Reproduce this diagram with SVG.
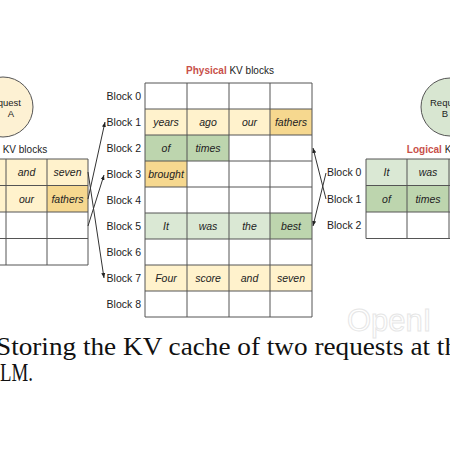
<svg xmlns="http://www.w3.org/2000/svg" width="450" height="450" viewBox="0 0 450 450">
<style>
.lbl{font-family:"Liberation Sans",Arial,sans-serif;font-size:10.5px;fill:#222}
.w{font-family:"Liberation Sans",Arial,sans-serif;font-size:10.5px;font-style:italic;fill:#222;text-anchor:middle}
.ttl{font-family:"Liberation Sans",Arial,sans-serif;font-size:10px;fill:#222;text-anchor:middle}
.red{fill:#c8504a;font-weight:bold}
.grid{fill:none;stroke:#555;stroke-width:1}
.ly{fill:#fff2cc}.dy{fill:#f6d88f}.lg{fill:#dae8d4}.dg{fill:#bdd5ae}
.conn{stroke:#333;stroke-width:1;fill:none;marker-end:url(#ah)}
.cap{font-family:"Liberation Serif","Times New Roman",serif;font-size:26px;fill:#111}
</style>
<defs>
<marker id="ah" viewBox="0 0 10 10" refX="10" refY="5" markerWidth="5" markerHeight="5" orient="auto" markerUnits="userSpaceOnUse">
<path d="M0,1 L10,5 L0,9 z" fill="#222"/>
</marker>
</defs>
<rect width="450" height="450" fill="#fff"/>

<g id="requestA">
<circle cx="3" cy="107" r="30" fill="#fdf1d3" stroke="#555" stroke-width="1"/>
<text class="lbl" x="21" y="106" text-anchor="end" style="font-size:9.5px">Request</text>
<text class="lbl" x="11" y="117" text-anchor="middle" style="font-size:9.5px">A</text>
</g>

<g id="requestB">
<circle cx="450" cy="107" r="29" fill="#d8e6d1" stroke="#555" stroke-width="1"/>
<text class="lbl" x="430" y="106" style="font-size:9.5px">Request</text>
<text class="lbl" x="445" y="117" text-anchor="middle" style="font-size:9.5px">B</text>
</g>

<g id="logicalA">
<text class="ttl" x="6" y="153"><tspan class="red">Logical</tspan> KV blocks</text>
<rect class="ly" x="-76" y="159" width="164" height="26.5"/>
<rect class="ly" x="-76" y="185.5" width="123" height="26.5"/>
<rect class="dy" x="47" y="185.5" width="41" height="26.5"/>
<rect class="dy" x="-76" y="212" width="41" height="26.5"/>
<path class="grid" d="M-76,159H88V265H-76Z M-76,185.5H88 M-76,212H88 M-76,238.5H88 M-35,159V265 M6,159V265 M47,159V265"/>
<text class="w" x="-55" y="176">Four</text>
<text class="w" x="-14" y="176">score</text>
<text class="w" x="26.5" y="176">and</text>
<text class="w" x="67.5" y="176">seven</text>
<text class="w" x="-55" y="202.5">years</text>
<text class="w" x="-14" y="202.5">ago</text>
<text class="w" x="26.5" y="202.5">our</text>
<text class="w" x="67.5" y="202.5">fathers</text>
<text class="w" x="-55" y="229">brought</text>
</g>

<g id="physical">
<text class="ttl" x="230" y="74"><tspan class="red">Physical</tspan> KV blocks</text>
<rect class="ly" x="145" y="109" width="125" height="26"/>
<rect class="dy" x="270" y="109" width="42" height="26"/>
<rect class="dg" x="145" y="135" width="84" height="26"/>
<rect class="dy" x="145" y="161" width="42" height="26"/>
<rect class="lg" x="145" y="213" width="125" height="26"/>
<rect class="dg" x="270" y="213" width="42" height="26"/>
<rect class="ly" x="145" y="265" width="167" height="26"/>
<path class="grid" d="M145,83H312V317H145Z M145,109H312 M145,135H312 M145,161H312 M145,187H312 M145,213H312 M145,239H312 M145,265H312 M145,291H312 M187,83V317 M229,83V317 M270,83V317"/>
<g class="lbl" text-anchor="end">
<text x="141" y="100">Block 0</text>
<text x="141" y="126">Block 1</text>
<text x="141" y="152">Block 2</text>
<text x="141" y="178">Block 3</text>
<text x="141" y="204">Block 4</text>
<text x="141" y="230">Block 5</text>
<text x="141" y="256">Block 6</text>
<text x="141" y="282">Block 7</text>
<text x="141" y="308">Block 8</text>
</g>
<text class="w" x="166" y="126">years</text>
<text class="w" x="208" y="126">ago</text>
<text class="w" x="249.5" y="126">our</text>
<text class="w" x="291" y="126">fathers</text>
<text class="w" x="166" y="152">of</text>
<text class="w" x="208" y="152">times</text>
<text class="w" x="166" y="178">brought</text>
<text class="w" x="166" y="230">It</text>
<text class="w" x="208" y="230">was</text>
<text class="w" x="249.5" y="230">the</text>
<text class="w" x="291" y="230">best</text>
<text class="w" x="166" y="282">Four</text>
<text class="w" x="208" y="282">score</text>
<text class="w" x="249.5" y="282">and</text>
<text class="w" x="291" y="282">seven</text>
</g>

<g id="logicalB">
<text class="ttl" x="448" y="153"><tspan class="red">Logical</tspan> KV blocks</text>
<rect class="lg" x="366" y="159" width="165" height="26.5"/>
<rect class="dg" x="366" y="185.5" width="83" height="26.5"/>
<path class="grid" d="M366,159H531V238.5H366Z M366,185.5H531 M366,212H531 M407,159V238.5 M449,159V238.5 M490,159V238.5"/>
<g class="lbl">
<text x="327" y="176">Block 0</text>
<text x="327" y="203">Block 1</text>
<text x="327" y="229">Block 2</text>
</g>
<text class="w" x="386.5" y="176">It</text>
<text class="w" x="428" y="176">was</text>
<text class="w" x="386.5" y="202.5">of</text>
<text class="w" x="428" y="202.5">times</text>
</g>

<g id="connectors">
<line class="conn" x1="88" y1="172" x2="104" y2="278"/>
<line class="conn" x1="88" y1="199" x2="105" y2="122"/>
<line class="conn" x1="88" y1="226" x2="104" y2="175"/>
<line class="conn" x1="326" y1="173" x2="313" y2="226"/>
<line class="conn" x1="326" y1="199" x2="313" y2="148"/>
</g>

<text x="347" y="331" font-family="'Liberation Sans',Arial,sans-serif" font-size="31" fill="#fff" stroke="#e6e6e6" stroke-width="1">OpenI</text>

<text class="cap" x="-4" y="355" textLength="462" lengthAdjust="spacingAndGlyphs">Storing the KV cache of two requests at th</text>
<text class="cap" x="0" y="381" textLength="33" lengthAdjust="spacingAndGlyphs">LM.</text>
</svg>
